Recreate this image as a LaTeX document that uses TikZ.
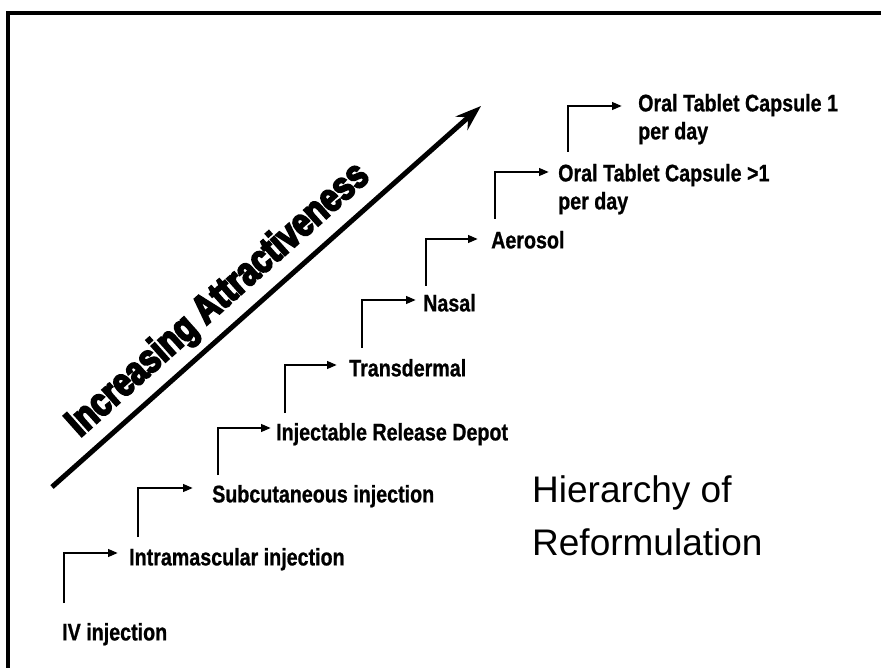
\documentclass[tikz,border=0pt]{standalone}
\usepackage{fontspec}
\usetikzlibrary{arrows.meta}
\newfontfamily\nbfont{Liberation Sans}[UprightFont={* Bold},FakeStretch=0.82,FakeBold=0.8]
\newfontfamily\hvfont{Liberation Sans}[UprightFont={* Bold},FakeStretch=0.8,FakeBold=5]
\newfontfamily\arfont{Liberation Sans}
\begin{document}
\begin{tikzpicture}[x=1pt,y=-1pt,
  lbl/.style={font=\nbfont\fontsize{24}{28}\selectfont, inner sep=0pt, anchor=north west, align=left},
  conn/.style={line width=2.5pt, -{Triangle[length=10pt,width=7.5pt]}},
  bigarrow/.style={line width=5pt, -{Stealth[length=26pt,width=18pt,inset=9pt]}}]
\useasboundingbox (0,0) rectangle (881,668);
% frame
\draw[line width=4pt] (881,13) -- (8,13) -- (8,668);
% labels (north west = baseline - 17.2)
\node[lbl] (iv)  at (62,622.8)  {IV injection};
\node[lbl] (im)  at (129,547.8) {Intramascular injection};
\node[lbl] (sc)  at (212,484.8) {Subcutaneous injection};
\node[lbl] (ird) at (276,422.8) {Injectable Release Depot};
\node[lbl] (td)  at (349,358.8) {Transdermal};
\node[lbl] (na)  at (423,293.8) {Nasal};
\node[lbl] (ae)  at (491,230.8) {Aerosol};
\node[lbl] (o2)  at (558,163.8) {Oral Tablet Capsule >1\\per day};
\node[lbl] (o1)  at (638,93.8)  {Oral Tablet Capsule 1\\per day};
% connectors
\draw[conn] ([xshift=2pt,yshift=19.8pt]iv.north west)  |- ([xshift=-11pt,yshift=-5.2pt]im.north west);
\draw[conn] ([xshift=9pt,yshift=10.8pt]im.north west)  |- ([xshift=-19pt,yshift=-3.2pt]sc.north west);
\draw[conn] ([xshift=6pt,yshift=9.8pt]sc.north west)   |- ([xshift=-5pt,yshift=-5.2pt]ird.north west);
\draw[conn] ([xshift=9pt,yshift=9.8pt]ird.north west)  |- ([xshift=-12pt,yshift=-6.2pt]td.north west);
\draw[conn] ([xshift=13pt,yshift=10.8pt]td.north west) |- ([xshift=-7pt,yshift=-6.2pt]na.north west);
\draw[conn] ([xshift=3pt,yshift=7.8pt]na.north west)   |- ([xshift=-13pt,yshift=-8.2pt]ae.north west);
\draw[conn] ([xshift=4pt,yshift=11.8pt]ae.north west)  |- ([xshift=-9pt,yshift=-8.2pt]o2.north west);
\draw[conn] ([xshift=10pt,yshift=11.8pt]o2.north west) |- ([xshift=-16pt,yshift=-12.2pt]o1.north west);
% big arrow
\coordinate (bs) at (52,487);
\coordinate (be) at (481,106);
\draw[bigarrow] (bs) -- (be);
\node[font=\hvfont\fontsize{40}{42}\selectfont, inner sep=0pt, anchor=base west, rotate=41.7] (ia) at (80,438) {Increasing Attractiveness};
% title
\node[font=\arfont\fontsize{37}{53}\selectfont, inner sep=0pt, anchor=north west, align=left] (hr) at (532,475) {Hierarchy of\\Reformulation};
\end{tikzpicture}
\end{document}
